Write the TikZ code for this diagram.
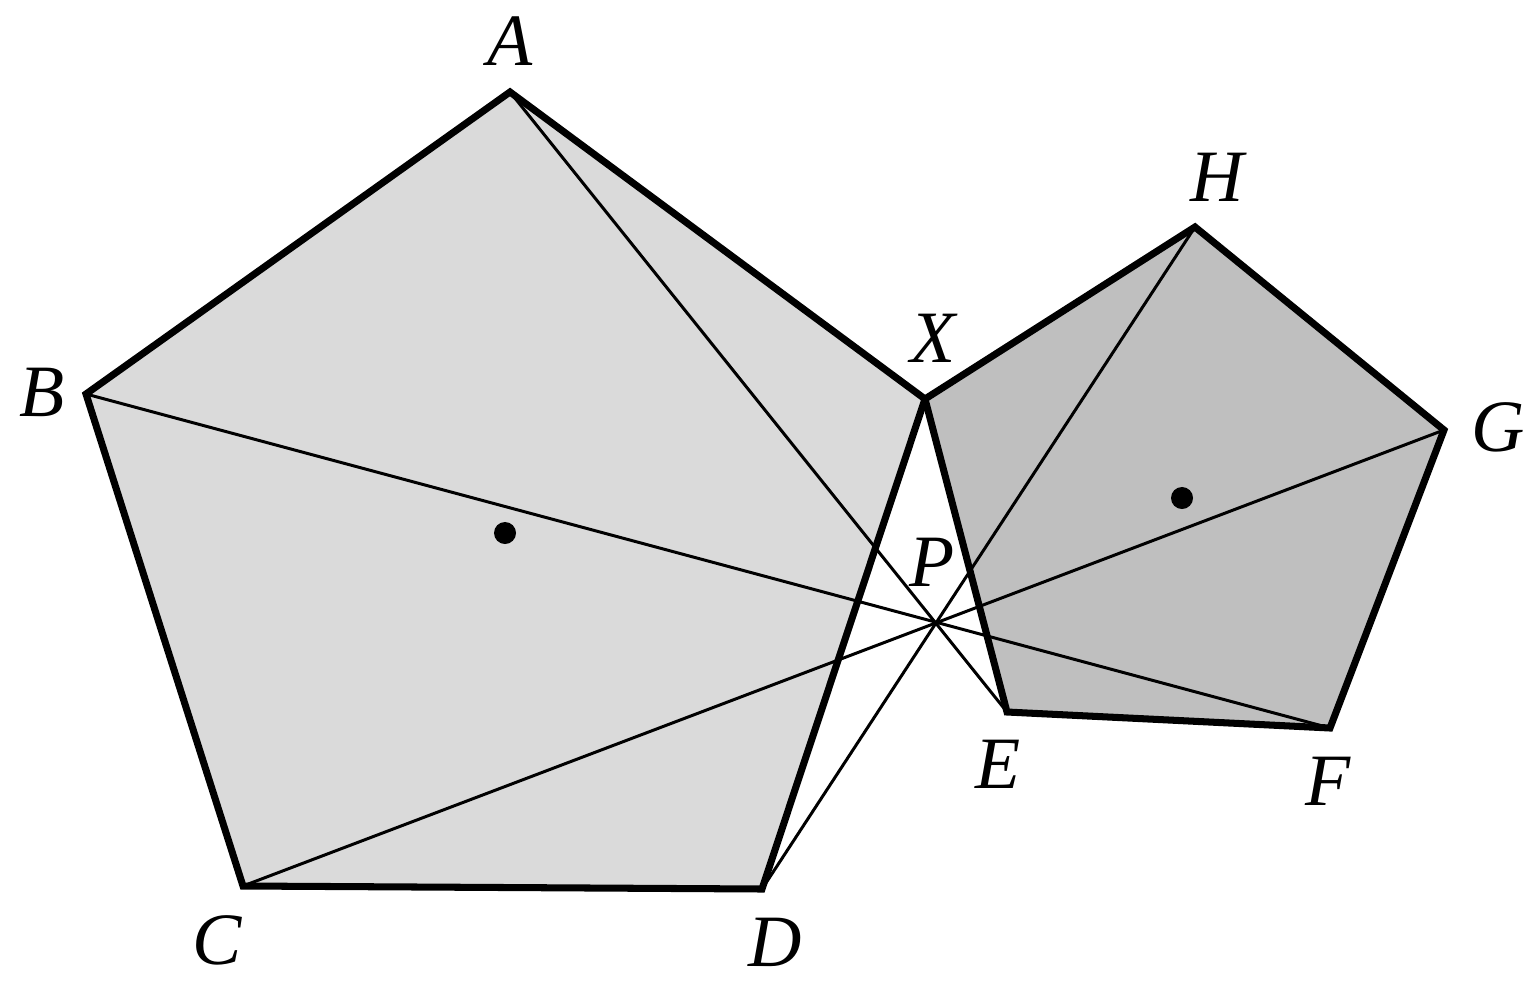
\documentclass[tikz,border=0pt]{standalone}
\usepackage{fontspec}
\setmainfont{Liberation Serif}
\begin{document}
\begin{tikzpicture}[x=0.01cm,y=-0.01cm,
  lbl/.style={font=\fontsize{21}{25}\selectfont\itshape, inner sep=0pt},
  edge/.style={line width=2pt, line join=miter},
  diag/.style={line width=0.85pt},
  ctr/.style={circle, fill=black, inner sep=0pt, minimum size=0.22cm}]
\useasboundingbox (0,0) rectangle (1536,1003);
\coordinate (A) at (510,92);
\coordinate (B) at (86,394);
\coordinate (C) at (243,886);
\coordinate (D) at (762,889);
\coordinate (X) at (925,399);
\coordinate (E) at (1007,712);
\coordinate (F) at (1330,728);
\coordinate (G) at (1444,430);
\coordinate (H) at (1195,227);
\coordinate (P) at (936,622);
% fills
\fill[gray!29] (A) -- (B) -- (C) -- (D) -- (X) -- cycle;
\fill[gray!50] (X) -- (E) -- (F) -- (G) -- (H) -- cycle;
% diagonals through P
\draw[diag] (A) -- (E);
\draw[diag] (B) -- (F);
\draw[diag] (C) -- (G);
\draw[diag] (D) -- (H);
% edges
\draw[edge] (A) -- (B) -- (C) -- (D) -- (X) -- cycle;
\draw[edge] (X) -- (E) -- (F) -- (G) -- (H) -- cycle;
% centers
\node[ctr] (O1) at (505,533) {};
\node[ctr] (O2) at (1182,498) {};
% labels
\node[lbl] (lA) at (510,41) {A};
\node[lbl] (lB) at (42,392) {B};
\node[lbl] (lC) at (217,940) {C};
\node[lbl] (lD) at (775,942) {D};
\node[lbl] (lX) at (933,338) {X};
\node[lbl] (lP) at (932,562) {P};
\node[lbl] (lE) at (998,764) {E};
\node[lbl] (lF) at (1328,781) {F};
\node[lbl] (lG) at (1498,427) {G};
\node[lbl] (lH) at (1217,177) {H};
\end{tikzpicture}
\end{document}
